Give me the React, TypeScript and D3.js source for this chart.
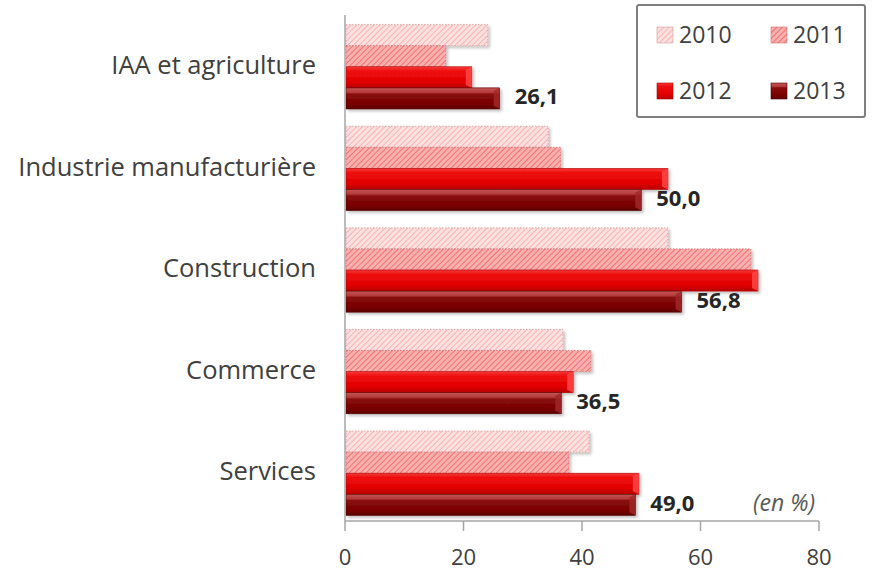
import React from "react";
import * as d3 from "d3";

const categories = [
  "IAA et agriculture",
  "Industrie manufacturière",
  "Construction",
  "Commerce",
  "Services",
];
const years = ["2010", "2011", "2012", "2013"];
const v2010 = [24.1, 34.3, 54.5, 36.8, 41.2];
const v2011 = [17.0, 36.4, 68.5, 41.5, 37.8];
const v2012 = [21.4, 54.5, 69.7, 38.5, 49.6];
const v2013 = [26.1, 50.0, 56.8, 36.5, 49.0];
const tickValues = [0, 20, 40, 60, 80];
const seriesValues = [v2010, v2011, v2012, v2013];

const W = 874;
const H = 571;
const FONT = "'Open Sans', Lato, sans-serif";

const fills = ["url(#hatch2010)", "url(#hatch2011)", "url(#grad2012)", "url(#grad2013)"];
const strokes = ["#d89a9a", "#d47070", "#b00000", "#500000"];

export default function App() {
  const x = d3.scaleLinear().domain([0, 80]).range([345, 819]);
  const y = d3.scaleBand<string>().domain(categories).range([16, 524]).paddingInner(0.17).paddingOuter(0.085);
  const yi = d3.scaleBand<string>().domain(years).range([0, y.bandwidth()]).padding(0);
  const axisY = 521;

  return (
    <svg width={W} height={H} style={{ position: "absolute", left: 0, top: 0, background: "#fff" }}>
      <defs>
        <pattern id="hatch2010" width="4" height="4" patternUnits="userSpaceOnUse" patternTransform="rotate(45)">
          <rect width="4" height="4" fill="#fde0e0" />
          <line x1="0" y1="0" x2="0" y2="4" stroke="#f4aaaa" strokeWidth="1.6" />
        </pattern>
        <pattern id="hatch2011" width="4" height="4" patternUnits="userSpaceOnUse" patternTransform="rotate(45)">
          <rect width="4" height="4" fill="#fbb0b0" />
          <line x1="0" y1="0" x2="0" y2="4" stroke="#ea6464" strokeWidth="1.6" />
        </pattern>
        <linearGradient id="grad2012" x1="0" y1="0" x2="0" y2="1">
          <stop offset="0" stopColor="#f53a3a" />
          <stop offset="0.2" stopColor="#ee1010" />
          <stop offset="0.7" stopColor="#e20000" />
          <stop offset="1" stopColor="#b80000" />
        </linearGradient>
        <linearGradient id="grad2013" x1="0" y1="0" x2="0" y2="1">
          <stop offset="0" stopColor="#c65454" />
          <stop offset="0.22" stopColor="#b23a3a" />
          <stop offset="0.3" stopColor="#8a0c0c" />
          <stop offset="0.8" stopColor="#760000" />
          <stop offset="1" stopColor="#5a0000" />
        </linearGradient>
        <filter id="shadow" x="-5%" y="-20%" width="110%" height="150%">
          <feDropShadow dx="2" dy="2" stdDeviation="1.5" floodColor="#000" floodOpacity="0.25" />
        </filter>
      </defs>

      {/* bars */}
      {categories.map((c, ci) => (
        <g key={c} transform={`translate(0,${y(c)})`}>
          {years.map((yr, si) => {
            const v = seriesValues[si][ci];
            const bx = x(0) + 1;
            const bw = x(v) - x(0) - 1;
            const by = yi(yr)!;
            const bh = yi.bandwidth();
            return (
              <g key={yr} filter="url(#shadow)">
                <rect
                  x={bx}
                  y={by}
                  width={bw}
                  height={bh}
                  fill={fills[si]}
                  stroke={strokes[si]}
                  strokeWidth={si < 2 ? 0.8 : 0.6}
                  strokeDasharray={si < 2 ? "1.5,1.5" : undefined}
                />
                {si >= 2 && (
                  <polygon
                    points={`${bx + bw - 6},${by + 3} ${bx + bw},${by} ${bx + bw},${by + bh} ${bx + bw - 6},${by + bh - 3}`}
                    fill={si === 2 ? "#ff4a4a" : "#a02828"}
                    opacity={0.8}
                  />
                )}
              </g>
            );
          })}
        </g>
      ))}

      {/* value labels for 2013 */}
      {categories.map((c, ci) => (
        <text
          key={c + "lbl"}
          x={x(v2013[ci]) + 15}
          y={y(c)! + yi("2013")! + yi.bandwidth() / 2 - 2}
          dy="0.36em"
          fontFamily={FONT}
          fontWeight="bold"
          fontSize={22}
          fill="#262626"
        >
          {d3.format(".1f")(v2013[ci]).replace(".", ",")}
        </text>
      ))}

      {/* category labels */}
      {categories.map((c) => (
        <text
          key={c + "cat"}
          x={316}
          y={y(c)! + y.bandwidth() / 2 - 2}
          dy="0.36em"
          textAnchor="end"
          fontFamily={FONT}
          fontSize={25.5}
          fill="#404040"
        >
          {c}
        </text>
      ))}

      {/* y axis line */}
      <line x1={x(0)} x2={x(0)} y1={15} y2={axisY} stroke="#a6a6a6" strokeWidth={1.5} />
      {/* x axis */}
      <line x1={x(0)} x2={x(80)} y1={axisY} y2={axisY} stroke="#a6a6a6" strokeWidth={1.5} />
      {tickValues.map((t) => (
        <g key={t}>
          <line x1={x(t)} x2={x(t)} y1={axisY} y2={axisY + 10} stroke="#a6a6a6" strokeWidth={1.5} />
          <text x={x(t)} y={565} textAnchor="middle" fontFamily={FONT} fontSize={22} fill="#404040">
            {t}
          </text>
        </g>
      ))}

      <text x={815} y={511} textAnchor="end" fontFamily={FONT} fontStyle="italic" fontSize={23} fill="#595959">
        (en %)
      </text>

      {/* legend */}
      <rect x={637} y={5} width={228} height={112} fill="#fff" stroke="#7f7f7f" strokeWidth={2} rx={2} />
      {years.map((yr, i) => {
        const lx = 657 + (i % 2) * 114;
        const ly = 27 + Math.floor(i / 2) * 56;
        return (
          <g key={yr + "leg"}>
            <rect x={lx} y={ly} width={16} height={16} fill={fills[i]} stroke={strokes[i]} strokeWidth={0.6} />
            <text x={lx + 22} y={ly + 8} dy="0.36em" fontFamily={FONT} fontSize={23} fill="#404040">
              {yr}
            </text>
          </g>
        );
      })}
    </svg>
  );
}
